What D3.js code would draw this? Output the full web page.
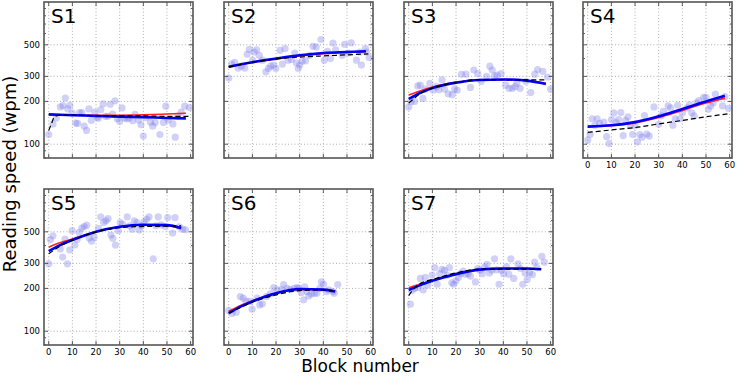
<!DOCTYPE html>
<html>
<head>
<meta charset="utf-8">
<script src="https://cdn.jsdelivr.net/npm/d3@7"></script>
<style>
  html, body { margin: 0; padding: 0; background: #fff; }
  svg { display: block; font-family: "DejaVu Sans", sans-serif; }
</style>
</head>
<body>
<svg id="chart" width="737" height="376"></svg>
<script>
// ---------- Data ----------
const panelNames = ["S1", "S2", "S3", "S4", "S5", "S6", "S7"];
const xTicks = [0, 10, 20, 30, 40, 50, 60];
const yTicks = [100, 200, 300, 500];
const yMinorTicks = [80, 90, 400, 600, 700, 800, 900];

// observed reading speeds: [block, wpm]
const pointsS1 = [[0,117],[1.8,139],[3.2,153],[4.9,183],[6,187],[7,211],[8,177],[8.9,188],[9.9,166],[11.4,141],[12.2,140],[13,167],[14,167],[15,134],[16,125],[17,177],[18,147],[19.5,168],[20.5,155],[21,152],[22,175],[23,192],[24,157],[25,157],[26,191],[27,163],[28,202],[29,151],[30,145],[31,180],[32,153],[33,151],[34,153],[35.5,146],[36.5,162],[38,148],[39,137],[40,114],[41,154],[43,143],[44,134],[45,142],[47,117],[48.5,142],[49.5,185],[50.5,148],[52.5,139],[53.5,112],[54.5,157],[56,168],[57.5,185],[59.5,181]];
const pointsS2 = [[0,292],[1.3,366],[2.5,377],[4,343],[5.4,354],[6.8,343],[7.8,429],[8.7,464],[10.1,390],[10.7,445],[11.8,461],[12.9,422],[14.3,390],[15.7,323],[16.8,341],[17.7,354],[19,360],[19.9,341],[21.7,457],[22.7,366],[23.8,470],[25.1,390],[26.5,394],[27.9,438],[28.6,374],[29.4,341],[30,360],[31.1,384],[32.5,386],[34.2,422],[35.6,488],[37,483],[39,545],[40.4,390],[41.7,449],[43,400],[44.1,514],[45.2,461],[48,422],[49,503],[50.4,438],[51.8,516],[54,390],[55.4,445],[56.1,360],[57.8,470],[58.2,445],[59.4,407]];
const pointsS3 = [[0,183],[1,200],[2.5,200],[3.8,257],[4.9,260],[6,210],[7,244],[8.9,268],[10.3,240],[11.7,254],[12.7,242],[14.1,283],[15.1,244],[16.7,226],[18.4,223],[19.4,244],[20.5,240],[22.3,310],[24.2,311],[26.1,251],[27.5,332],[29.2,314],[30.6,276],[32.9,300],[34.3,354],[35.3,332],[36.3,302],[37.4,306],[39.1,314],[41,260],[42.4,247],[43.8,247],[45,254],[45.7,268],[47.1,247],[49.5,276],[51.6,231],[53.3,311],[54.5,335],[56.7,325],[58.7,297],[60,244]];
const pointsS4 = [[0,107],[1,117],[1.9,151],[3,136],[4,151],[5,140],[6.8,143],[8,113],[9,101],[10,149],[11,166],[12,142],[13,149],[14,167],[15,115],[16,147],[17,156],[18,135],[19,117],[20,135],[21,104],[22,117],[23,112],[24,159],[25,118],[26,114],[28,183],[30,138],[31,158],[32,170],[34,186],[35,180],[36,136],[37,151],[38,188],[39,151],[40,166],[42,180],[43,189],[44,166],[45,158],[46,195],[47,203],[49,214],[50,214],[51,176],[52,186],[53,195],[54,225],[57,186],[58,216],[59.5,179]];
const pointsS5 = [[0,298],[0.7,441],[1.8,469],[4.9,379],[5.9,332],[6.9,445],[7.9,298],[8.9,373],[9.9,509],[11,404],[12,441],[12.9,495],[14,531],[15,545],[16.1,557],[17.1,452],[18.1,429],[19.2,457],[21,528],[22,637],[23.2,581],[24.2,597],[25.1,620],[26.3,475],[27.1,450],[28.2,404],[29.4,509],[30.2,581],[31.2,566],[33.2,637],[34.2,551],[35.3,522],[36.2,597],[37.3,581],[38.3,514],[39.3,551],[40.3,587],[41.4,613],[42.4,637],[44.2,323],[45.3,551],[46.3,637],[47.5,560],[49.3,545],[50.3,630],[52.4,490],[53.4,630],[55.2,542],[56.6,522],[57.8,517]];
const pointsS6 = [[0,140],[1.4,133],[3.2,136],[4.9,175],[6.1,171],[7.3,163],[8.9,162],[9.9,143],[12,171],[13.1,153],[14.2,156],[15.9,175],[17.6,183],[19,203],[20.4,195],[22.3,196],[23.2,213],[24.6,200],[26,196],[27.7,200],[28.9,203],[29.6,200],[30.7,187],[31.7,166],[32.1,205],[33.1,190],[33.8,177],[34.9,183],[36.3,185],[37.3,185],[38.5,200],[39.2,222],[40.1,214],[41.3,190],[42.3,195],[44.1,190],[44.6,185],[46.1,213]];
const pointsS7 = [[0.7,155],[1.4,193],[2.5,200],[3.8,203],[4.9,235],[6.1,195],[7,239],[8,211],[9.9,248],[11,280],[12,214],[13.1,254],[14.1,272],[15.1,268],[16.2,248],[17.2,280],[18.2,219],[19,214],[20,226],[21,239],[22,254],[23,265],[23.9,252],[25.1,254],[26.1,244],[28.2,222],[29.2,276],[30.1,268],[31.1,254],[32.1,283],[33.1,295],[34.1,257],[35.2,268],[36.3,323],[37.2,270],[38.2,214],[39.2,268],[40.1,254],[41.3,283],[42.3,252],[43.2,323],[44.4,235],[46.2,298],[47.2,276],[48.2,214],[49.2,257],[50.1,231],[51.1,258],[52.3,250],[53.2,306],[54.2,280],[56.3,336],[57.3,306]];

// fitted curves: [block, wpm]
const blueS1 = [[0,162],[10,160],[20,158],[30,156],[40,155],[50,153],[58,152]];
const redS1  = [[0,161],[10,160],[20,160],[30,160],[40,161],[50,163],[58,165]];
const dashS1 = [[0,125],[1.2,140],[2.5,156],[5,160],[10,160],[20,159],[30,158],[40,158],[50,157],[60,157]];
const blueS2 = [[0,350],[10,377],[20,400],[30,422],[40,438],[50,445],[58,450]];
const redS2  = [[0,348],[10,375],[20,398],[30,418],[40,433],[50,442],[58,447]];
const dashS2 = [[0,350],[10,377],[20,398],[30,410],[40,418],[50,425],[59,432]];
const blueS3 = [[0,208],[5,230],[10,248],[20,271],[30,283],[40,285],[50,280],[58,265]];
const redS3  = [[0,222],[5,238],[10,252],[20,272],[30,283],[40,285],[50,280],[58,268]];
const dashS3 = [[0,195],[2,208],[5,228],[10,248],[20,271],[30,285],[40,285],[50,283],[58,283]];
const blueS4 = [[0,133],[10,136],[20,143],[30,157],[40,177],[50,200],[58,219]];
const redS4  = [[0,133],[10,135],[20,141],[30,154],[40,173],[50,195],[58,211]];
const dashS4 = [[0,121],[10,126],[20,131],[30,139],[40,147],[50,156],[60,164]];
const blueS5 = [[0,366],[5,405],[10,438],[20,501],[30,543],[40,560],[50,557],[56,531]];
const redS5  = [[0,390],[5,420],[10,445],[20,501],[30,543],[40,558],[50,552],[56,528]];
const dashS5 = [[0,350],[5,398],[10,435],[20,498],[30,535],[40,545],[50,548],[56,550]];
const blueS6 = [[0,134],[5,149],[10,162],[20,185],[30,198],[40,196],[45,190]];
const redS6  = [[0,138],[5,152],[10,164],[20,185],[30,197],[40,196],[45,192]];
const dashS6 = [[0,134],[10,160],[20,180],[30,193],[40,195],[44,192]];
const blueS7 = [[0,195],[5,211],[10,226],[20,252],[30,271],[40,276],[50,276],[56,273]];
const redS7  = [[0,202],[5,215],[10,228],[20,252],[30,271],[40,276],[50,276],[56,273]];
const dashS7 = [[0,178],[2,198],[5,217],[10,231],[20,257],[30,273],[40,273],[50,273],[56,273]];

const panelPoints = [pointsS1, pointsS2, pointsS3, pointsS4, pointsS5, pointsS6, pointsS7];
const panelBlue = [blueS1, blueS2, blueS3, blueS4, blueS5, blueS6, blueS7];
const panelRed = [redS1, redS2, redS3, redS4, redS5, redS6, redS7];
const panelDash = [dashS1, dashS2, dashS3, dashS4, dashS5, dashS6, dashS7];

// ---------- Layout ----------
const colLeft = [44, 224, 404, 583];
const rowTop = [2, 189];
const pw = 149, ph = 156;

const svg = d3.select("#chart");
const x = d3.scaleLinear().domain([-2, 61]).range([0, pw]);
const y = d3.scaleLog().domain([80, 1000]).range([ph, 0]);

const line = d3.line().x(d => x(d[0])).y(d => y(d[1])).curve(d3.curveMonotoneX);

panelNames.forEach((name, i) => {
  const col = i < 4 ? i : i - 4;
  const row = i < 4 ? 0 : 1;
  const g = svg.append("g").attr("transform", `translate(${colLeft[col]},${rowTop[row]})`);

  const clipId = "clip" + i;
  g.append("clipPath").attr("id", clipId).append("rect").attr("width", pw).attr("height", ph);

  // grid
  const grid = g.append("g").attr("stroke", "#9a9a9a").attr("stroke-width", 0.8).attr("stroke-dasharray", "1,2.2");
  grid.selectAll(".gx").data(xTicks).join("line")
    .attr("x1", d => x(d)).attr("x2", d => x(d)).attr("y1", 0).attr("y2", ph);
  grid.selectAll(".gy").data(yTicks).join("line")
    .attr("x1", 0).attr("x2", pw).attr("y1", d => y(d)).attr("y2", d => y(d));

  const inner = g.append("g").attr("clip-path", `url(#${clipId})`);
  // points
  inner.selectAll("circle").data(panelPoints[i]).join("circle")
    .attr("cx", d => x(d[0])).attr("cy", d => y(d[1])).attr("r", 3.6)
    .attr("fill", "rgb(115,115,235)").attr("fill-opacity", 0.33);

  inner.append("path").datum(panelRed[i]).attr("d", line)
    .attr("fill", "none").attr("stroke", "#ff2020").attr("stroke-width", 1.6);
  inner.append("path").datum(panelBlue[i]).attr("d", line)
    .attr("fill", "none").attr("stroke", "#0000ff").attr("stroke-width", 2.6);
  inner.append("path").datum(panelDash[i]).attr("d", line)
    .attr("fill", "none").attr("stroke", "#000").attr("stroke-width", 1.2).attr("stroke-dasharray", "5,3");

  // ticks (inward)
  const tk = g.append("g").attr("stroke", "#333").attr("stroke-width", 0.8);
  xTicks.forEach(t => {
    tk.append("line").attr("x1", x(t)).attr("x2", x(t)).attr("y1", ph).attr("y2", ph - 4);
    tk.append("line").attr("x1", x(t)).attr("x2", x(t)).attr("y1", 0).attr("y2", 4);
  });
  yTicks.forEach(t => {
    tk.append("line").attr("x1", 0).attr("x2", 4).attr("y1", y(t)).attr("y2", y(t));
    tk.append("line").attr("x1", pw).attr("x2", pw - 4).attr("y1", y(t)).attr("y2", y(t));
  });
  yMinorTicks.forEach(t => {
    tk.append("line").attr("x1", 0).attr("x2", 2).attr("y1", y(t)).attr("y2", y(t));
    tk.append("line").attr("x1", pw).attr("x2", pw - 2).attr("y1", y(t)).attr("y2", y(t));
  });

  // frame
  g.append("rect").attr("width", pw).attr("height", ph)
    .attr("fill", "none").attr("stroke", "#555").attr("stroke-width", 1.6);

  // panel label
  g.append("text").attr("x", 7).attr("y", 21).attr("font-size", 20).attr("fill", "#000").text(name);

  // tick labels
  if (col === 0) {
    g.selectAll(".yl").data(yTicks).join("text")
      .attr("x", -4).attr("y", d => y(d)).attr("dy", "0.35em")
      .attr("text-anchor", "end").attr("font-size", 8.5).attr("fill", "#000").text(d => d);
  }
  if (row === 1 || i === 3) {
    g.selectAll(".xl").data(xTicks).join("text")
      .attr("x", d => x(d)).attr("y", ph + 9.5)
      .attr("text-anchor", "middle").attr("font-size", 8.5).attr("fill", "#000").text(d => d);
  }
});

// axis titles
svg.append("text").attr("x", 360).attr("y", 372).attr("text-anchor", "middle")
  .attr("font-size", 17).attr("fill", "#000").text("Block number");
svg.append("text").attr("transform", "translate(16,174) rotate(-90)").attr("text-anchor", "middle")
  .attr("font-size", 18).attr("fill", "#000").text("Reading speed (wpm)");
</script>
</body>
</html>
